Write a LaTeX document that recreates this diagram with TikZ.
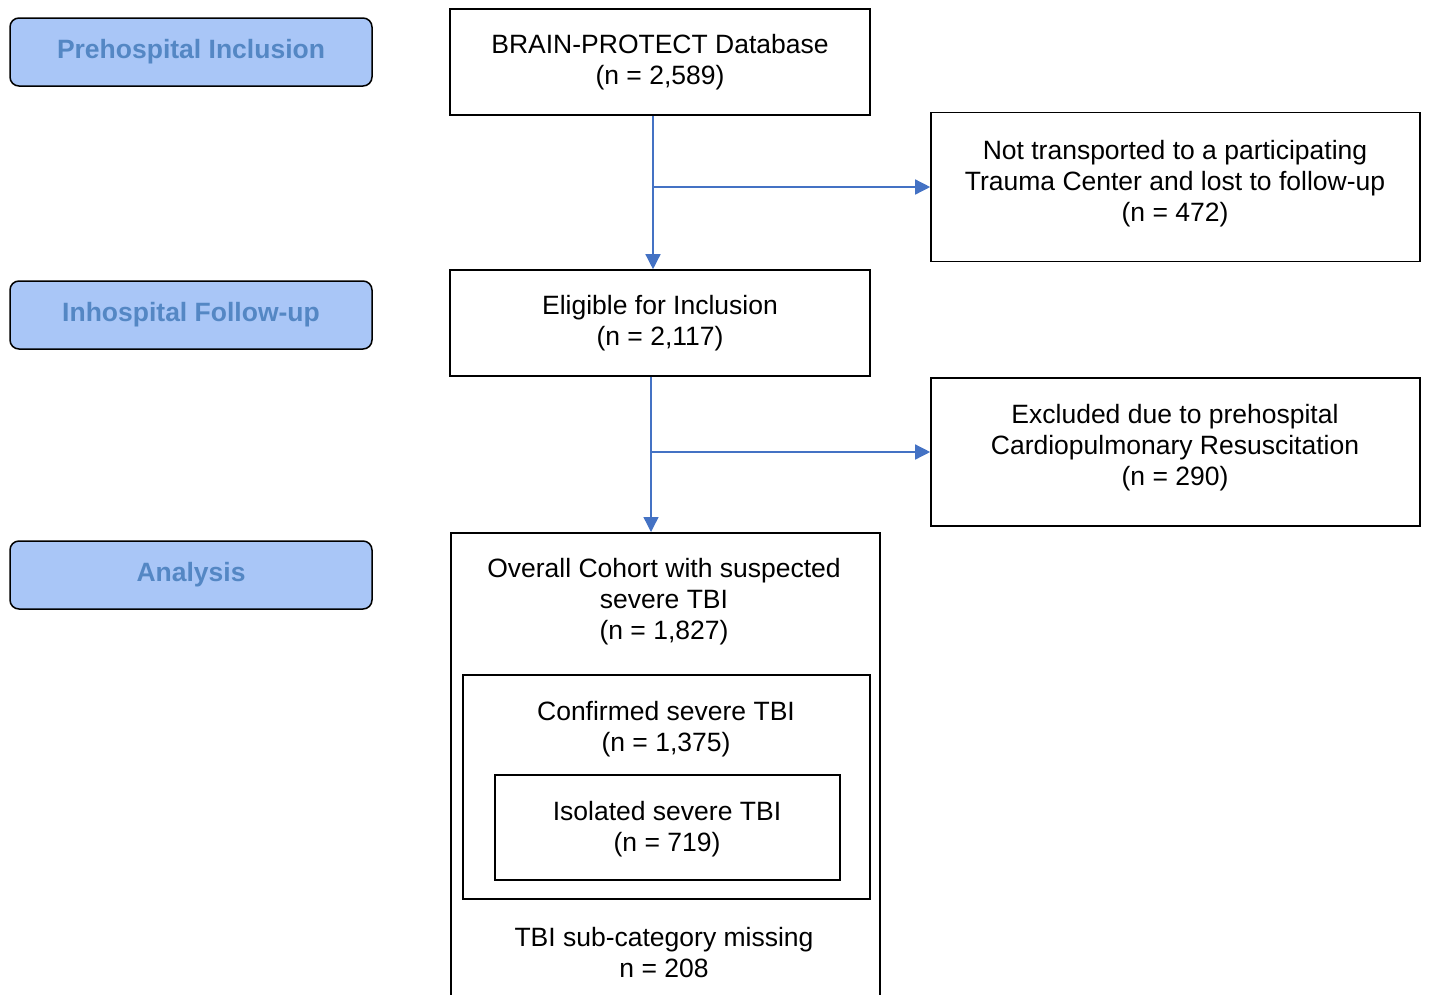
\documentclass[tikz,border=0pt]{standalone}
\usepackage{fontspec}
\setmainfont{Liberation Sans}
\usetikzlibrary{arrows.meta,calc}
\definecolor{phasefill}{HTML}{A9C6F7}
\definecolor{phasetext}{HTML}{5487C4}
\definecolor{arrowblue}{HTML}{4472C4}
\begin{document}
\begin{tikzpicture}[x=1pt,y=-1pt,
  phase/.style={draw=black,line width=1.5pt,rounded corners=9pt,fill=phasefill,
    minimum width=362pt,minimum height=68pt,inner sep=0pt,
    font=\fontsize{26.5}{31}\selectfont\bfseries,text=phasetext},
  box/.style={draw=black,line width=1.6pt,inner sep=0pt,align=center,
    font=\fontsize{26.5}{31}\selectfont},
  txt/.style={inner sep=0pt,align=center,font=\fontsize{26.5}{31}\selectfont},
  arr/.style={draw=arrowblue,line width=1.4pt,-{Triangle[length=15pt,width=15pt]}}]
\useasboundingbox (0,0) rectangle (1430,994);
\clip (0,0) rectangle (1430,994);
% phase labels
\node[phase] (p1) at (191,52) {Prehospital Inclusion};
\node[phase] (p2) at (191,315) {Inhospital Follow-up};
\node[phase] (p3) at (191,575) {Analysis};
% main boxes
\node[box,minimum width=420pt,minimum height=106pt] (brain) at (660,62)
  {BRAIN-PROTECT Database\\(n = 2,589)};
\node[box,minimum width=489pt,minimum height=149pt] (nt) at (1175.5,187) {};
\node[txt] (nttxt) at (1175,184)
  {Not transported to a participating\\Trauma Center and lost to follow-up\\(n = 472)};
\node[box,minimum width=420pt,minimum height=106pt] (elig) at (660,323)
  {Eligible for Inclusion\\(n = 2,117)};
\node[box,minimum width=489pt,minimum height=148pt] (excl) at (1175.5,452) {};
\node[txt] (excltxt) at (1175,448)
  {Excluded due to prehospital\\Cardiopulmonary Resuscitation\\(n = 290)};
\node[box,anchor=north west,minimum width=429pt,minimum height=500pt] (overall) at (450,532) {};
\node[txt] (ovtxt) at (664,602) {Overall Cohort with suspected\\severe TBI\\(n = 1,827)};
\node[box,minimum width=407pt,minimum height=224pt] (conf) at (666.5,787) {};
\node[txt] (conftxt) at (666,729) {Confirmed severe TBI\\(n = 1,375)};
\node[box,minimum width=345pt,minimum height=105pt] (iso) at (667.5,827.5) {};
\node[txt] (isotxt) at (667,829) {Isolated severe TBI\\(n = 719)};
\node[txt] (miss) at (664,953) {TBI sub-category missing\\n = 208};
% arrows
\draw[arr] ([xshift=-7pt]brain.south) -- ([xshift=-7pt]elig.north);
\draw[arr] ([xshift=-7pt]brain.south |- nt.west) -- (nt.west);
\draw[arr] ([xshift=-9pt]elig.south) -- ([xshift=-9pt]elig.south |- overall.north);
\draw[arr] ([xshift=-9pt]elig.south |- excl.west) -- (excl.west);
\end{tikzpicture}
\end{document}
